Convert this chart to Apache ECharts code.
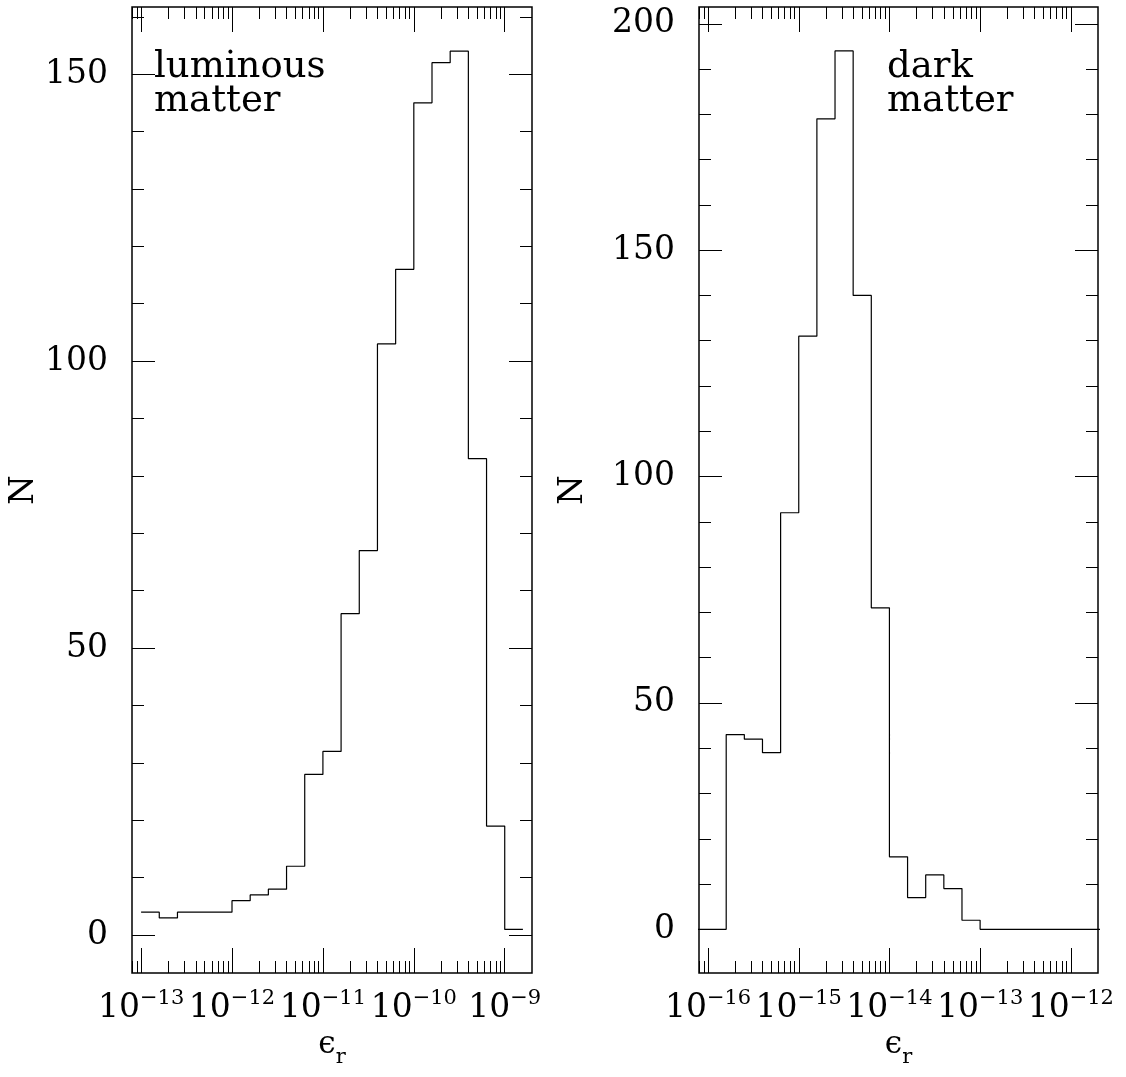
<!DOCTYPE html>
<html>
<head>
<meta charset="utf-8">
<style>
  html, body { margin: 0; padding: 0; background: #fff; }
  #chart { width: 1126px; height: 1077px; }
</style>
<script src="https://cdn.jsdelivr.net/npm/echarts@6/dist/echarts.min.js"></script>
</head>
<body>
<div id="chart"></div>
<script>
// bins are in log10(eps_r); counts
const lumEdges = [-13.0, -12.8, -12.6, -12.4, -12.2, -12.0, -11.8, -11.6, -11.4, -11.2, -11.0,
                  -10.8, -10.6, -10.4, -10.2, -10.0, -9.8, -9.6, -9.4, -9.2, -9.0, -8.8];
const lumCounts = [4, 3, 4, 4, 4, 6, 7, 8, 12, 28, 32, 56, 67, 103, 116, 145, 152, 154, 83, 19, 1];

const darkEdges = [-16.2, -16.0, -15.8, -15.6, -15.4, -15.2, -15.0, -14.8, -14.6, -14.4, -14.2, -14.0,
                   -13.8, -13.6, -13.4, -13.2, -13.0, -12.8, -12.6, -12.4, -12.2, -12.0, -11.8, -11.6];
const darkCounts = [0, 0, 43, 42, 39, 92, 131, 179, 194, 140, 71, 16, 7, 12, 9, 2, 0, 0, 0, 0, 0, 0, 0];

// tick labels
const lumDecades = [-13, -12, -11, -10, -9];
const darkDecades = [-16, -15, -14, -13, -12];
const lumYLabels = [0, 50, 100, 150];
const darkYLabels = [0, 50, 100, 150, 200];
const lumYMinor = [0, 10, 20, 30, 40, 50, 60, 70, 80, 90, 100, 110, 120, 130, 140, 150, 160];
const darkYMinor = [0, 10, 20, 30, 40, 50, 60, 70, 80, 90, 100, 110, 120, 130, 140, 150, 160, 170, 180, 190, 200];
const minorMantissa = [2, 3, 4, 5, 6, 7, 8, 9];

const lumXRange = [-13.1, -8.7];
const lumYRange = [-6.6, 161.7];
const darkXRange = [-16.1, -11.7];
const darkYRange = [-9.65, 203.7];

const FONT = 'DejaVu Serif';
const INK = '#000';

function stepData(edges, counts) {
  const pts = counts.map(function (c, i) { return [edges[i], c]; });
  pts.push([edges[edges.length - 1], counts[counts.length - 1]]);
  return pts;
}

// minor ticks of a log axis, at k * 10^n
function logMinor(decades, range) {
  const out = [];
  for (let n = decades[0] - 1; n <= decades[decades.length - 1]; n++) {
    minorMantissa.forEach(function (k) {
      const v = n + Math.log10(k);
      if (v > range[0] && v < range[1]) out.push(v);
    });
  }
  return out;
}

function tick(values, len) {
  return { show: true, customValues: values, inside: true, length: len,
           lineStyle: { color: INK, width: 1 } };
}

function xAxes(gridIndex, range, decades) {
  const base = { type: 'value', gridIndex: gridIndex, min: range[0], max: range[1],
                 axisLine: { show: false, onZero: false }, splitLine: { show: false } };
  const minor = logMinor(decades, range);
  return [
    Object.assign({}, base, {
      position: 'bottom', axisTick: tick(decades, 25),
      axisLabel: {
        customValues: decades, margin: 15,
        formatter: function (v) { return '{b|10}{s|\u2212' + Math.abs(Math.round(v)) + '}'; },
        rich: {
          b: { fontFamily: FONT, fontSize: 33, lineHeight: 40, color: INK },
          s: { fontFamily: FONT, fontSize: 21, lineHeight: 21, verticalAlign: 'top', color: INK }
        }
      },
      name: '{e|\u03f5}{r|r}', nameLocation: 'middle', nameGap: 47,
      nameTextStyle: {
        rich: {
          e: { fontFamily: FONT, fontSize: 31, lineHeight: 30, verticalAlign: 'top', color: INK },
          r: { fontFamily: FONT, fontSize: 21, lineHeight: 56, color: INK }
        }
      }
    }),
    Object.assign({}, base, { position: 'bottom', axisTick: tick(minor, 12), axisLabel: { show: false } }),
    Object.assign({}, base, { position: 'top', axisTick: tick(decades, 25), axisLabel: { show: false } }),
    Object.assign({}, base, { position: 'top', axisTick: tick(minor, 12), axisLabel: { show: false } })
  ];
}

function yAxes(gridIndex, range, labels, minor, nameGap) {
  const base = { type: 'value', gridIndex: gridIndex, min: range[0], max: range[1],
                 axisLine: { show: false, onZero: false }, splitLine: { show: false } };
  return [
    Object.assign({}, base, {
      position: 'left', axisTick: tick(labels, 23),
      axisLabel: { customValues: labels, margin: 24, fontFamily: FONT, fontSize: 33, color: INK },
      name: 'N', nameLocation: 'middle', nameRotate: 90, nameGap: nameGap,
      nameTextStyle: { fontFamily: FONT, fontSize: 34, color: INK }
    }),
    Object.assign({}, base, { position: 'left', axisTick: tick(minor, 12), axisLabel: { show: false } }),
    Object.assign({}, base, { position: 'right', axisTick: tick(labels, 23), axisLabel: { show: false } }),
    Object.assign({}, base, { position: 'right', axisTick: tick(minor, 12), axisLabel: { show: false } })
  ];
}

function hist(xi, yi, edges, counts) {
  return { type: 'line', xAxisIndex: xi, yAxisIndex: yi, step: 'end', symbol: 'none',
           data: stepData(edges, counts), lineStyle: { color: INK, width: 1.2 }, silent: true };
}

const gridStyle = { show: true, borderColor: INK, borderWidth: 1.5, backgroundColor: 'transparent',
                    containLabel: false, outerBoundsMode: 'none' };

const chart = echarts.init(document.getElementById('chart'));
chart.setOption({
  animation: false,
  backgroundColor: '#fff',
  grid: [
    Object.assign({ left: 132, top: 7, width: 400, height: 966 }, gridStyle),
    Object.assign({ left: 699, top: 7, width: 399, height: 966 }, gridStyle)
  ],
  xAxis: xAxes(0, lumXRange, lumDecades).concat(xAxes(1, darkXRange, darkDecades)),
  yAxis: yAxes(0, lumYRange, lumYLabels, lumYMinor, 90).concat(yAxes(1, darkYRange, darkYLabels, darkYMinor, 109)),
  series: [
    hist(0, 0, lumEdges, lumCounts),
    hist(4, 4, darkEdges, darkCounts)
  ],
  graphic: [
    { type: 'text', left: 154, top: 49,
      style: { text: 'luminous\nmatter', fontFamily: FONT, fontSize: 37, lineHeight: 34, fill: INK } },
    { type: 'text', left: 887, top: 49,
      style: { text: 'dark\nmatter', fontFamily: FONT, fontSize: 37, lineHeight: 34, fill: INK } }
  ]
});

window.addEventListener('resize', function () { chart.resize(); });
</script>
</body>
</html>
